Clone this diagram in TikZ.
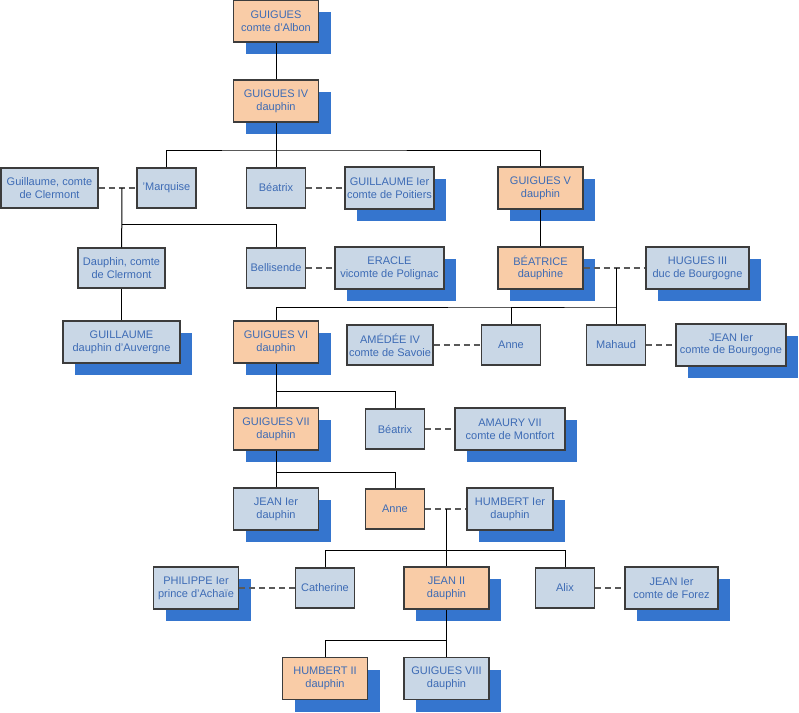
\documentclass[tikz,border=0pt]{standalone}
\usepackage{fontspec}
\setmainfont{Liberation Sans}
\usetikzlibrary{shadows}
\definecolor{peach}{RGB}{249,204,167}
\definecolor{slate}{RGB}{201,215,230}
\definecolor{shade}{RGB}{53,117,206}
\definecolor{ink}{RGB}{61,107,181}
\definecolor{rim}{RGB}{60,60,60}

\begin{document}
\begin{tikzpicture}[x=1pt,y=-1pt,
  person/.style={rectangle,draw=rim,line width=1.3pt,fill=slate,text=ink,inner sep=0pt,align=center,
    font=\fontsize{11}{12.7}\selectfont,minimum width=59pt,minimum height=40pt},
  heir/.style={person,fill=peach},
  wide/.style={minimum width=#1,minimum height=42pt},
  shadowed/.style={drop shadow={shadow xshift=12pt,shadow yshift=-12pt,fill=shade,opacity=1}},
  descent/.style={draw=black,line width=1pt},
  married/.style={draw=black!65,line width=1.3pt,dash pattern=on 6pt off 4pt}]
\useasboundingbox (0,0) rectangle (799,712);

\node[heir,wide=85pt,shadowed] (albon) at (276,21) {GUIGUES\\comte d’Albon};
\node[heir,wide=85pt,shadowed] (guigues4) at (276,101) {GUIGUES IV\\dauphin};

\node[person,minimum width=97pt] (guillaumeC) at (49.5,188) {Guillaume, comte\\de Clermont};
\node[person] (marquise) at (166.5,188) {'Marquise};
\node[person] (beatrix1) at (276,188) {Béatrix};
\node[person,wide=89pt,shadowed] (guillaumeP) at (389.5,188) {GUILLAUME Ier\\comte de Poitiers};
\node[heir,wide=85pt,shadowed] (guigues5) at (540.5,188) {GUIGUES V\\dauphin};

\node[person,minimum width=87pt] (dauphinC) at (121.5,268) {Dauphin, comte\\de Clermont};
\node[person] (bellisende) at (276,268) {Bellisende};
\node[person,wide=109pt,shadowed] (eracle) at (389.5,268) {ERACLE\\vicomte de Polignac};
\node[heir,wide=85pt,shadowed] (beatrice) at (540.5,268) {BÉATRICE\\dauphine};
\node[person,wide=103pt,shadowed] (hugues) at (697.5,268) {HUGUES III\\duc de Bourgogne};

\node[person,wide=117pt,shadowed] (guillaumeD) at (121.5,342) {GUILLAUME\\dauphin d’Auvergne};
\node[heir,wide=85pt,shadowed] (guigues6) at (276,342) {GUIGUES VI\\dauphin};
\node[person,minimum width=86pt] (amedee) at (390,345) {AMÉDÉE IV\\comte de Savoie};
\node[person] (anne1) at (511,345) {Anne};
\node[person] (mahaud) at (616,345) {Mahaud};
\node[person,wide=110pt,shadowed] (jeanB) at (731,345) {JEAN Ier\\comte de Bourgogne};

\node[heir,wide=85pt,shadowed] (guigues7) at (276,429) {GUIGUES VII\\dauphin};
\node[person] (beatrix2) at (395,429) {Béatrix};
\node[person,wide=110pt,shadowed] (amaury) at (510,429) {AMAURY VII\\comte de Montfort};

\node[person,wide=85pt,shadowed] (jeanD) at (276,509) {JEAN Ier\\dauphin};
\node[heir] (anne2) at (395,509) {Anne};
\node[person,wide=86pt,shadowed] (humbert1) at (510,509) {HUMBERT Ier\\dauphin};

\node[person,wide=85pt,shadowed] (philippe) at (196,588) {PHILIPPE Ier\\prince d’Achaïe};
\node[person] (catherine) at (325,588) {Catherine};
\node[heir,wide=85pt,shadowed] (jean2) at (446.5,588) {JEAN II\\dauphin};
\node[person] (alix) at (565,588) {Alix};
\node[person,wide=93pt,shadowed] (jeanF) at (671.5,588) {JEAN Ier\\comte de Forez};

\node[heir,wide=85pt,shadowed] (humbert2) at (325,678.5) {HUMBERT II\\dauphin};
\node[person,wide=85pt,shadowed] (guigues8) at (446.5,678.5) {GUIGUES VIII\\dauphin};

\coordinate (fam4) at (276,150);
\coordinate (wedC) at (122,188);
\coordinate (famC) at (122,224);
\coordinate (wedB) at (616,268);
\coordinate (famB) at (616,307);
\coordinate (fam6) at (276,391);
\coordinate (fam7) at (276,472);
\coordinate (wedA) at (446.5,509);
\coordinate (famA) at (446.5,550);
\coordinate (fam2) at (446.5,640);

\path[married]
(guillaumeC) edge (marquise)
(beatrix1) edge (guillaumeP)
(bellisende) edge (eracle)
(beatrice) edge (hugues)
(amedee) edge (anne1)
(mahaud) edge (jeanB)
(beatrix2) edge (amaury)
(anne2) edge (humbert1)
(philippe) edge (catherine)
(alix) edge (jeanF);

\path[descent]
(albon) edge (guigues4)
(guigues4) edge (beatrix1)
(guigues5) edge (beatrice)
(wedC) edge (dauphinC)
(dauphinC) edge (guillaumeD)
(wedB) edge (mahaud)
(guigues6) edge (guigues7)
(guigues7) edge (jeanD)
(wedA) edge (jean2)
(jean2) edge (guigues8);
\draw[descent] (marquise.north) |- (fam4) -| (guigues5.north);
\draw[descent] (famC) -| (bellisende.north);
\draw[descent] (guigues6.north) |- (famB) -| (anne1.north);
\draw[descent] (fam6) -| (beatrix2.north);
\draw[descent] (fam7) -| (anne2.north);
\draw[descent] (catherine.north) |- (famA) -| (alix.north);
\draw[descent] (fam2) -| (humbert2.north);
\end{tikzpicture}
\end{document}
